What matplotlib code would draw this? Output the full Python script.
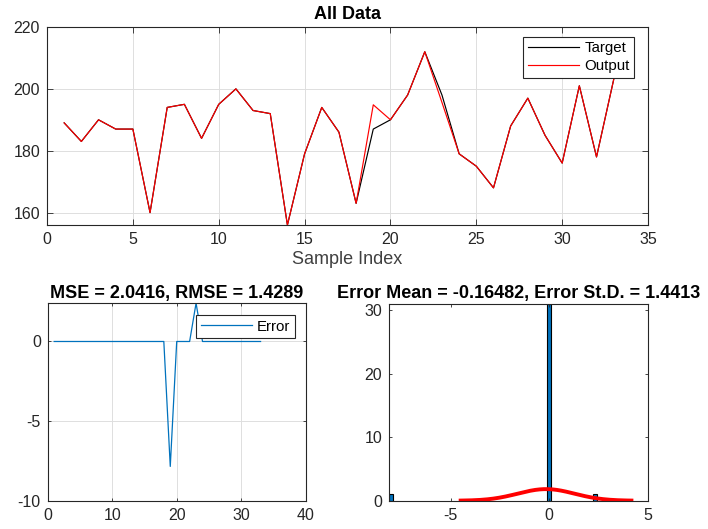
import numpy as np
import matplotlib.pyplot as plt

plt.rcParams['font.family'] = ['Liberation Sans', 'DejaVu Sans']
plt.rcParams['axes.unicode_minus'] = False

# network targets and outputs per sample
target = [189, 183, 190, 187, 187, 160, 194, 195, 184, 195, 200, 193, 192, 156, 179, 194, 186,
          163, 187.0, 190, 198, 212, 198.0, 179, 175, 168, 188, 197, 185, 176, 201, 178, 203]
output = [189, 183, 190, 187, 187, 160, 194, 195, 184, 195, 200, 193, 192, 156, 179, 194, 186,
          163, 194.847, 190, 198, 212, 195.592, 179, 175, 168, 188, 197, 185, 176, 201, 178, 203]

# histogram of the errors
hist_centers = [-8.0, 0.0, 2.3]
hist_counts = [1, 31, 1]
bin_w = 0.2

t = np.array(target)
y = np.array(output)
e = t - y
n = len(e)
idx = np.arange(1, n + 1)

mse = np.mean(e ** 2)
rmse = np.sqrt(mse)
mu = np.mean(e)
sd = np.std(e, ddof=1)

blue = '#0072bd'
dark = '#262626'


def style(ax, ticklen, grid=True):
    ax.tick_params(direction='in', length=ticklen, width=0.6, top=True, right=True,
                   labelsize=11.5, colors=dark, pad=5)
    for s in ax.spines.values():
        s.set_linewidth(0.8)
        s.set_color(dark)
    if grid:
        ax.grid(True, color='#dedede', lw=0.7)
        ax.set_axisbelow(True)


def legend(ax, anchor):
    leg = ax.legend(loc='upper right', bbox_to_anchor=anchor, borderaxespad=0,
                    fancybox=False, framealpha=1, edgecolor=dark, fontsize=10.8,
                    handlelength=3.4, handletextpad=0.35, borderpad=0.3, labelspacing=0.25)
    leg.get_frame().set_linewidth(0.8)


fig = plt.figure(figsize=(7.08, 5.29), dpi=100)

ax1 = fig.add_axes([0.0664, 0.5747, 0.8489, 0.3743])
ax1.plot(idx, t, color='k', lw=0.85, label='Target')
ax1.plot(idx, y, color='r', lw=0.85, label='Output')
ax1.set_xlim(0, 35)
ax1.set_ylim(156, 220)
ax1.set_xticks(np.arange(0, 36, 5))
ax1.set_yticks([160, 180, 200, 220])
ax1.set_title('All Data', fontsize=13, fontweight='bold', pad=6)
ax1.set_xlabel('Sample Index', fontsize=13, color='#404040', labelpad=3)
style(ax1, 4.5)
legend(ax1, (1 - 14 / 601, 1 - 10 / 198))

ax2 = fig.add_axes([0.0674, 0.0535, 0.3644, 0.3732])
ax2.plot(idx, e, color=blue, lw=0.9, label='Error')
ax2.set_xlim(0, 40)
ax2.set_ylim(-10, 2.4)
ax2.set_xticks([0, 10, 20, 30, 40])
ax2.set_yticks([-10, -5, 0])
ax2.set_title(f'MSE = {mse:.5g}, RMSE = {rmse:.5g}', fontsize=13, fontweight='bold', pad=4)
style(ax2, 2.5)
legend(ax2, (1 - 10.7 / 258, 1 - 11.7 / 197))

ax3 = fig.add_axes([0.5494, 0.0535, 0.3659, 0.3718])
ax3.bar(hist_centers, hist_counts, width=bin_w, color=blue, edgecolor='k', lw=0.8)
xs = np.linspace(mu - 3 * sd, mu + 3 * sd, 200)
pdf = np.exp(-0.5 * ((xs - mu) / sd) ** 2) / (sd * np.sqrt(2 * np.pi))
ax3.plot(xs, n * bin_w * pdf, color='r', lw=2.8)
ax3.set_xlim(-8.12, 5)
ax3.set_ylim(0, 31)
ax3.set_xticks([-5, 0, 5])
ax3.set_yticks([0, 10, 20, 30])
ax3.set_title(f'Error Mean = {mu:.5g}, Error St.D. = {sd:.5g}', fontsize=13,
              fontweight='bold', pad=4)
style(ax3, 2.5, grid=False)

fig.savefig('out.png', dpi=100)
